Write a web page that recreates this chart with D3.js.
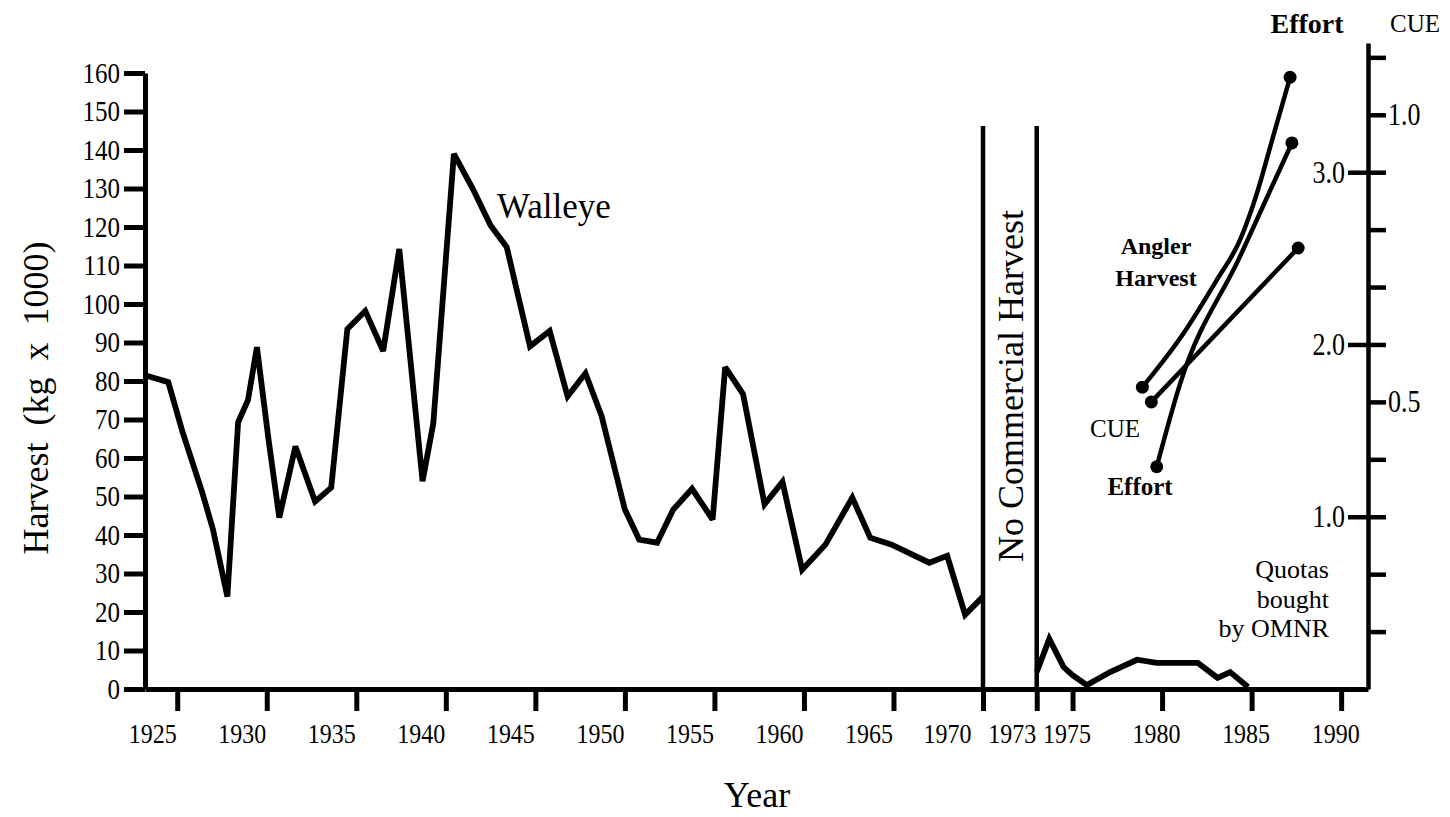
<!DOCTYPE html>
<html>
<head>
<meta charset="utf-8">
<script src="https://cdn.jsdelivr.net/npm/d3@7"></script>
<style>
    body { margin: 0; background: #fff; }
    text { font-family: "Liberation Serif", "Times New Roman", serif; fill: #000; }
</style>
</head>
<body>
<div id="chart"></div>
<script>

// commercial walleye harvest (kg x 1000)
const walleyeYears = [1923.2, 1924.5, 1925.3, 1926.4, 1927.0, 1927.8, 1928.4, 1928.95, 1929.45, 1930.1,
    1930.7, 1931.6, 1932.7, 1933.6, 1934.5, 1935.5, 1936.5, 1937.4, 1938.7, 1939.3,
    1940.45, 1941.5, 1942.5, 1943.4, 1944.7, 1945.8, 1946.8, 1947.8, 1948.7, 1950.0,
    1950.8, 1951.8, 1952.7, 1953.75, 1954.9, 1955.6, 1956.6, 1957.8, 1958.8, 1959.9,
    1961.2, 1962.7, 1963.7, 1964.9, 1967.0, 1968.0, 1969.0, 1970.0];
const walleyeHarvest = [81.5, 79.7, 66.7, 51, 41.4, 24, 69.3, 75, 88.8, 64.8,
    44.5, 63, 48.7, 52.3, 93.5, 98.2, 87.8, 114.3, 54, 69,
    139, 130, 120.4, 114.8, 89, 93, 76, 82, 70.9, 46.6,
    38.8, 38, 46.6, 52, 44, 83.6, 76.6, 48, 53.8, 31,
    37.5, 49.7, 39.3, 37.5, 32.8, 34.6, 19.3, 24];

const lateYears = [1973.0, 1973.7, 1974.5, 1975.0, 1975.8, 1977.1, 1978.6, 1979.7, 1982.0, 1983.1, 1983.8, 1984.8];
const lateHarvest = [4.4, 13, 5.7, 3.6, 1, 4.4, 7.6, 6.8, 6.8, 2.9, 4.4, 0.5];

// angler fishery
const anglerYears = [1978.9, 1981.2, 1983.05, 1984.35, 1985.3, 1986.2, 1987.15];
const anglerHarvest = [78.4, 92.4, 106.2, 116.6, 128.8, 143.5, 158.9];
const effortYears = [1979.7, 1981.0, 1984.35, 1987.25];
const effortValues = [1.29, 1.77, 2.51, 3.17];
const cueYears = [1979.4, 1987.6];
const cueValues = [0.50, 0.768];

const closureYears = [1970, 1973];

const xTicks = [1925, 1930, 1935, 1940, 1945, 1950, 1955, 1960, 1965, 1970, 1973, 1975, 1980, 1985, 1990];
const yTicks = [0, 10, 20, 30, 40, 50, 60, 70, 80, 90, 100, 110, 120, 130, 140, 150, 160];
const cueTicks = [0.1, 0.2, 0.3, 0.4, 0.5, 0.6, 0.7, 0.8, 0.9, 1.0, 1.1];
const cueLabels = [0.5, 1.0];
const effortTicks = [1.0, 2.0, 3.0];


const width = 1450, height = 817;

const svg = d3.select("#chart")
    .append("svg")
    .attr("width", width)
    .attr("height", height);

const x = d3.scaleLinear().domain([1923.2, 1991.5]).range([145, 1368]);
const y = d3.scaleLinear().domain([0, 160]).range([689, 73]);
const yCue = d3.scaleLinear().domain([0, 1.125]).range([689, 43]);
const yEffort = d3.scaleLinear().domain([0, 3.75]).range([689, 43]);

// the printed numbers sit a bit left of their ticks
function labelShift(d) {
    if (d === 1970) return -36;
    if (d <= 1973) return -25;
    return -6;
}

// x axis
const xAxis = svg.append("g")
    .attr("transform", "translate(0,689)")
    .call(d3.axisBottom(x).tickValues(xTicks).tickFormat(d3.format("d"))
        .tickSize(22).tickPadding(10).tickSizeOuter(0));
xAxis.selectAll("path, line").attr("stroke", "#000").attr("stroke-width", 5);
xAxis.selectAll("text")
    .attr("dx", d => labelShift(d))
    .attr("transform", "scale(1,1.1)")
    .style("font-size", "24px")
    .attr("font-family", null);

// left axis
const yAxis = svg.append("g")
    .attr("transform", "translate(145,0)")
    .call(d3.axisLeft(y).tickValues(yTicks).tickSize(21).tickPadding(4).tickSizeOuter(0));
yAxis.selectAll("path, line").attr("stroke", "#000").attr("stroke-width", 5);
yAxis.selectAll("text")
    .attr("transform", "scale(1,1.18)")
    .style("font-size", "25px")
    .attr("font-family", null);

// right axis: CUE ticks outside, effort ticks inside
const cueAxis = svg.append("g")
    .attr("transform", "translate(1368,0)")
    .call(d3.axisRight(yCue).tickValues(cueTicks).tickSize(18).tickPadding(2).tickSizeOuter(0)
        .tickFormat(d => cueLabels.includes(d) ? d3.format(".1f")(d) : ""));
cueAxis.selectAll("path, line").attr("stroke", "#000").attr("stroke-width", 4.5);
cueAxis.selectAll("text")
    .attr("transform", "scale(1,1.18)")
    .style("font-size", "26px")
    .attr("font-family", null);

const effortAxis = svg.append("g")
    .attr("transform", "translate(1368,0)")
    .call(d3.axisLeft(yEffort).tickValues(effortTicks).tickSize(20).tickPadding(3)
        .tickFormat(d3.format(".1f")));
effortAxis.select(".domain").remove();
effortAxis.selectAll("line").attr("stroke", "#000").attr("stroke-width", 4.5);
effortAxis.selectAll("text")
    .attr("transform", "scale(1,1.18)")
    .style("font-size", "26px")
    .attr("font-family", null);

// closure lines
svg.selectAll(".closure")
    .data(closureYears)
    .enter()
    .append("line")
    .attr("x1", d => x(d)).attr("x2", d => x(d))
    .attr("y1", 126).attr("y2", 689)
    .attr("stroke", "#000")
    .attr("stroke-width", 4.5);

svg.append("text")
    .attr("transform", `translate(${(x(1970) + x(1973)) / 2 + 13},386) rotate(-90)`)
    .attr("text-anchor", "middle")
    .style("font-size", "36px")
    .text("No Commercial Harvest");

// harvest lines
const harvestLine = d3.line()
    .x(d => x(d[0]))
    .y(d => y(d[1]));

svg.append("path")
    .datum(d3.zip(walleyeYears, walleyeHarvest))
    .attr("fill", "none")
    .attr("stroke", "#000")
    .attr("stroke-width", 5.8)
    .attr("stroke-linejoin", "miter")
    .attr("stroke-miterlimit", 3)
    .attr("d", harvestLine);

svg.append("path")
    .datum(d3.zip(lateYears, lateHarvest))
    .attr("fill", "none")
    .attr("stroke", "#000")
    .attr("stroke-width", 5.8)
    .attr("stroke-linejoin", "miter")
    .attr("stroke-miterlimit", 3)
    .attr("d", harvestLine);

// angler series, each with a dot at both ends
const series = [
    { xs: anglerYears, ys: anglerHarvest, scale: y },
    { xs: effortYears, ys: effortValues, scale: yEffort },
    { xs: cueYears, ys: cueValues, scale: yCue }
];

series.forEach(s => {
    const pts = d3.zip(s.xs, s.ys);
    svg.append("path")
        .datum(pts)
        .attr("fill", "none")
        .attr("stroke", "#000")
        .attr("stroke-width", 4.5)
        .attr("d", d3.line().curve(d3.curveMonotoneX)
            .x(d => x(d[0]))
            .y(d => s.scale(d[1])));
    svg.selectAll(null)
        .data([pts[0], pts[pts.length - 1]])
        .enter()
        .append("circle")
        .attr("cx", d => x(d[0]))
        .attr("cy", d => s.scale(d[1]))
        .attr("r", 6.5)
        .attr("fill", "#000");
});

// labels
svg.append("text")
    .attr("x", 497).attr("y", 218)
    .style("font-size", "35px")
    .text("Walleye");

const angler = svg.append("text")
    .attr("text-anchor", "middle")
    .style("font-size", "24px")
    .style("font-weight", "bold");
angler.append("tspan").attr("x", 1156).attr("y", 254).text("Angler");
angler.append("tspan").attr("x", 1156).attr("y", 286).text("Harvest");

svg.append("text")
    .attr("x", 1090).attr("y", 437)
    .style("font-size", "25px")
    .text("CUE");

svg.append("text")
    .attr("x", 1140).attr("y", 495)
    .attr("text-anchor", "middle")
    .style("font-size", "25px")
    .style("font-weight", "bold")
    .text("Effort");

svg.append("text")
    .attr("x", 1307).attr("y", 33)
    .attr("text-anchor", "middle")
    .style("font-size", "28px")
    .style("font-weight", "bold")
    .text("Effort");

svg.append("text")
    .attr("x", 1390).attr("y", 32)
    .style("font-size", "25px")
    .text("CUE");

const quota = svg.append("text")
    .attr("text-anchor", "end")
    .style("font-size", "26px");
quota.append("tspan").attr("x", 1329).attr("y", 578).text("Quotas");
quota.append("tspan").attr("x", 1329).attr("y", 608).text("bought");
quota.append("tspan").attr("x", 1329).attr("y", 637).text("by OMNR");

svg.append("text")
    .attr("transform", "translate(48,398) rotate(-90)")
    .attr("text-anchor", "middle")
    .style("font-size", "36px")
    .style("word-spacing", "8px")
    .text("Harvest (kg x 1000)");

svg.append("text")
    .attr("x", 757).attr("y", 807)
    .attr("text-anchor", "middle")
    .style("font-size", "36px")
    .text("Year");

</script>
</body>
</html>
